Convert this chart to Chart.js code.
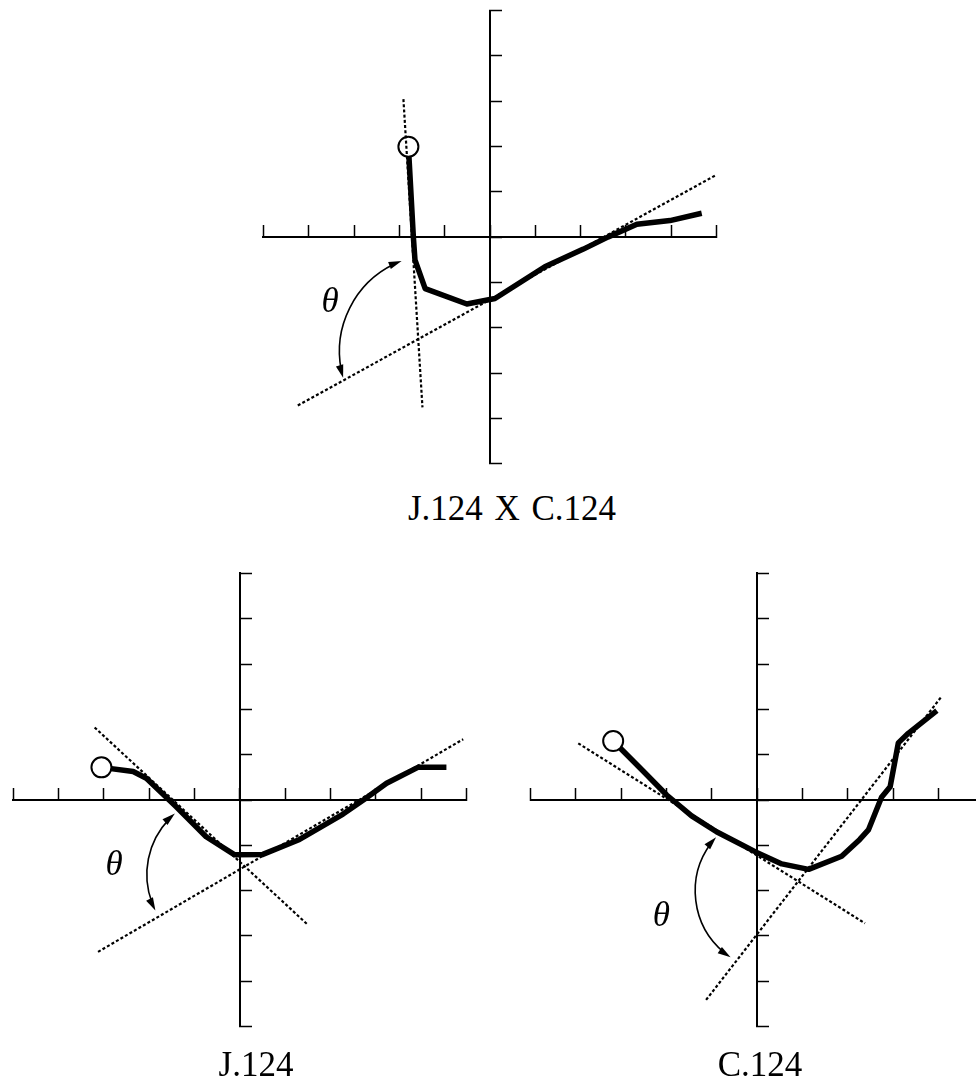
<!DOCTYPE html>
<html><head><meta charset="utf-8">
<script src="https://cdn.jsdelivr.net/npm/chart.js@4.4.1/dist/chart.umd.min.js"></script>
<style>
html,body{margin:0;padding:0;background:#fff;overflow:hidden;width:976px;height:1081px;position:relative;}
canvas{position:absolute;}
.title{position:absolute;font-family:"Liberation Serif","Times New Roman",serif;font-size:35px;line-height:35px;color:#000;white-space:nowrap;transform:translateX(-50%);}
</style></head><body>
<canvas id="c1"></canvas>
<canvas id="c2"></canvas>
<canvas id="c3"></canvas>
<div class="title" id="t1" style="left:512px;top:491px;word-spacing:3px"></div>
<div class="title" id="t2" style="left:256px;top:1047px"></div>
<div class="title" id="t3" style="left:760px;top:1047px"></div>
<script>
// ---- data ----
const tickValues = [-5,-4,-3,-2,-1,0,1,2,3,4,5];
const titles = ["J.124 X C.124", "J.124", "C.124"];
const thetaText = "\u03b8";

// Panel 1: J.124 X C.124
const crossCurveX = [-1.80,-1.69,-1.655,-1.43,-0.51,0.11,1.21,2.06,2.61,3.24,3.97,4.67];
const crossCurveY = [2.00,0.00,-0.50,-1.13,-1.47,-1.35,-0.65,-0.26,0.01,0.29,0.37,0.53];
const crossLineAX = [-1.91,-1.49];
const crossLineAY = [3.05,-3.75];
const crossLineBX = [-4.24,4.96];
const crossLineBY = [-3.71,1.36];
const crossArcX = [-1.95,-3.27,-3.24];
const crossArcY = [-0.52,-2.05,-3.10];
const crossTheta = [-3.53,-1.65];

// Panel 2: J.124
const jCurveX = [-3.05,-2.35,-2.06,-1.40,-0.74,-0.11,0.51,1.32,2.28,2.76,3.24,3.93,4.56];
const jCurveY = [0.72,0.63,0.48,-0.15,-0.81,-1.21,-1.20,-0.87,-0.31,0.02,0.37,0.72,0.72];
const jLineAX = [-3.20,1.51];
const jLineAY = [1.60,-2.76];
const jLineBX = [-3.125,4.93];
const jLineBY = [-3.35,1.34];
const jArcX = [-1.43,-2.04,-1.86];
const jArcY = [-0.30,-1.47,-2.44];
const jTheta = [-2.77,-1.65];

// Panel 3: C.124
const cCurveX = [-3.18,-2.51,-2.00,-1.45,-0.90,-0.05,0.54,1.13,1.86,2.26,2.45,2.74,2.93,3.11,3.33,3.96];
const cCurveY = [1.30,0.63,0.11,-0.35,-0.70,-1.14,-1.41,-1.53,-1.24,-0.87,-0.66,0.06,0.29,1.26,1.47,1.97];
const cLineAX = [-3.95,2.375];
const cLineAY = [1.25,-2.72];
const cLineBX = [-1.13,4.07];
const cLineBY = [-4.41,2.29];
const cArcX = [-0.91,-1.37,-0.59];
const cArcY = [-0.82,-1.99,-3.47];
const cTheta = [-2.12,-2.79];

// ---- drawing ----
const U = 45.333, S = 494;
const zip = (xs, ys) => xs.map((x, i) => ({x, y: ys[i]}));

function circleFrom3(a, b, c) {
  const d = 2 * (a.x * (b.y - c.y) + b.x * (c.y - a.y) + c.x * (a.y - b.y));
  const A = a.x*a.x + a.y*a.y, B = b.x*b.x + b.y*b.y, C = c.x*c.x + c.y*c.y;
  const ux = (A * (b.y - c.y) + B * (c.y - a.y) + C * (a.y - b.y)) / d;
  const uy = (A * (c.x - b.x) + B * (a.x - c.x) + C * (b.x - a.x)) / d;
  return {x: ux, y: uy, r: Math.hypot(a.x - ux, a.y - uy)};
}

function arrowHead(ctx, p, cen, away) {
  const rx = (p.x - cen.x), ry = (p.y - cen.y), rl = Math.hypot(rx, ry);
  let tx = -ry / rl, ty = rx / rl;
  if (tx * (p.x - away.x) + ty * (p.y - away.y) < 0) { tx = -tx; ty = -ty; }
  const L = 13, W = 3.8;
  const bx = p.x - tx * L, by = p.y - ty * L;
  ctx.beginPath();
  ctx.moveTo(p.x, p.y);
  ctx.lineTo(bx - ty * W, by + tx * W);
  ctx.lineTo(bx + ty * W, by - tx * W);
  ctx.closePath();
  ctx.fill();
}

const annotPlugin = {
  id: 'annot',
  afterDatasetsDraw(chart, args, opts) {
    const ctx = chart.ctx, xs = chart.scales.x, ys = chart.scales.y;
    const pts = opts.arcX.map((v, i) => ({x: xs.getPixelForValue(v), y: ys.getPixelForValue(opts.arcY[i])}));
    const c = circleFrom3(pts[0], pts[1], pts[2]);
    const ang = p => Math.atan2(p.y - c.y, p.x - c.x);
    const a1 = ang(pts[0]), a2 = ang(pts[1]), a3 = ang(pts[2]);
    const norm = a => ((a - a1) % (2*Math.PI) + 2*Math.PI) % (2*Math.PI);
    const cw = norm(a2) < norm(a3);
    ctx.save();
    ctx.strokeStyle = '#000'; ctx.fillStyle = '#000'; ctx.lineWidth = 1.6;
    const trim = 8 / c.r;
    ctx.beginPath();
    ctx.arc(c.x, c.y, c.r, a1 + (cw ? trim : -trim), a3 + (cw ? -trim : trim), !cw);
    ctx.stroke();
    arrowHead(ctx, pts[0], c, pts[1]);
    arrowHead(ctx, pts[2], c, pts[1]);
    ctx.font = 'italic 35px "Liberation Serif", "Times New Roman", serif';
    ctx.textAlign = 'center';
    ctx.textBaseline = 'alphabetic';
    ctx.fillText(thetaText, xs.getPixelForValue(opts.theta[0]), ys.getPixelForValue(opts.theta[1]));
    ctx.restore();
  }
};

function makeChart(id, ox, oy, curveX, curveY, lax, lay, lbx, lby, arcX, arcY, theta) {
  const cv = document.getElementById(id);
  const left = Math.round(ox - 5*U - 20), top = Math.round(oy - 5*U - 20);
  const pl = ox - 5*U - left, pt = oy - 5*U - top;
  const pr = S - pl - 10*U, pb = S - pt - 10*U;
  cv.style.left = left + 'px'; cv.style.top = top + 'px';
  cv.width = S; cv.height = S; cv.style.width = S + 'px'; cv.style.height = S + 'px';
  const dotted = (xs, ys) => ({data: zip(xs, ys), showLine: true, borderColor: '#000', borderWidth: 2.2,
    borderDash: [3, 2.2], pointRadius: 0, clip: false});
  const scaleCommon = {
    type: 'linear', min: -5, max: 5,
    afterBuildTicks: s => { s.ticks = tickValues.map(v => ({value: v})); },
    ticks: {display: false},
    grid: {drawOnChartArea: false, drawTicks: true, tickLength: -13, tickWidth: 1.5, tickColor: '#000'},
    border: {display: true, color: '#000', width: 2}
  };
  new Chart(cv, {
    type: 'scatter',
    data: {datasets: [
      dotted(lax, lay),
      dotted(lbx, lby),
      {data: zip(curveX, curveY), showLine: true, borderColor: '#000', borderWidth: 5.5,
       borderJoinStyle: 'round', borderCapStyle: 'butt', clip: false,
       pointRadius: c => c.dataIndex === 0 ? 10 : 0,
       pointBackgroundColor: '#fff', pointBorderColor: '#000', pointBorderWidth: 2}
    ]},
    options: {
      responsive: false, animation: false, events: [],
      layout: {padding: {left: pl, top: pt, right: pr, bottom: pb}},
      plugins: {legend: {display: false}, tooltip: {enabled: false},
        annot: {arcX, arcY, theta}},
      scales: {
        x: Object.assign({}, scaleCommon, {position: {y: 0}, afterFit: s => { s.height = 0; }}),
        y: Object.assign({}, scaleCommon, {position: {x: 0}, afterFit: s => { s.width = 0; }})
      }
    },
    plugins: [annotPlugin]
  });
}

document.getElementById('t1').textContent = titles[0];
document.getElementById('t2').textContent = titles[1];
document.getElementById('t3').textContent = titles[2];

makeChart('c1', 490, 237.33, crossCurveX, crossCurveY, crossLineAX, crossLineAY, crossLineBX, crossLineBY, crossArcX, crossArcY, crossTheta);
makeChart('c2', 239.7, 800, jCurveX, jCurveY, jLineAX, jLineAY, jLineBX, jLineBY, jArcX, jArcY, jTheta);
makeChart('c3', 757.33, 800, cCurveX, cCurveY, cLineAX, cLineAY, cLineBX, cLineBY, cArcX, cArcY, cTheta);
</script>
</body></html>
